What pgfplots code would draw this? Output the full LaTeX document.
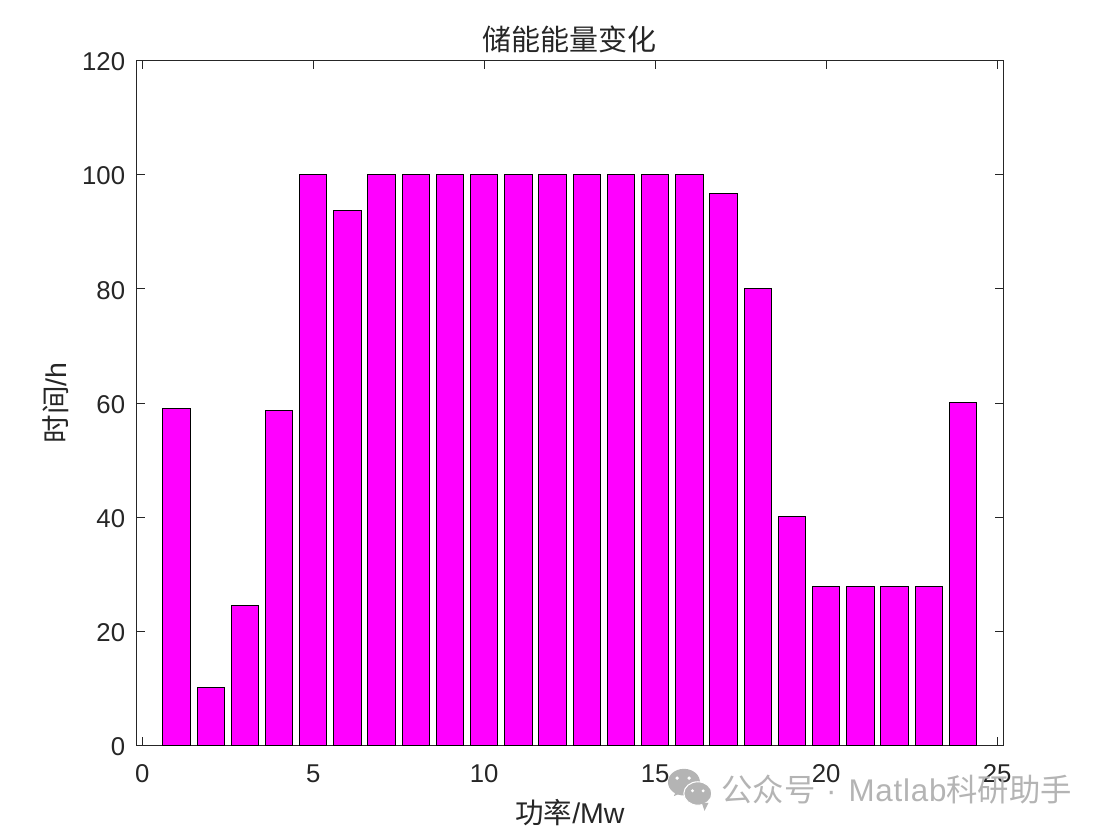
\documentclass[border=0pt]{standalone}
\usepackage{pgfplots}
\pgfplotsset{compat=1.18}
\usepackage{fontspec}
\setmainfont{Liberation Sans}
\newfontfamily\cjk{Noto Sans CJK SC}
\newfontfamily\wml[LetterSpace=2.5]{Liberation Sans}
\definecolor{axc}{HTML}{262626}
\definecolor{wm}{HTML}{B4B4B4}
\begin{document}
\begin{tikzpicture}[x=1pt,y=1pt]
\path[use as bounding box] (-102.375pt,-65.625pt) rectangle (728.625pt,559.125pt);
\begin{axis}[
  at={(0pt,0pt)},anchor=south west,
  scale only axis,width=650.1pt,height=513.75pt,
  xmin=-0.17,xmax=25.18,ymin=0,ymax=120,
  xtick={0,5,10,15,20,25},ytick={0,20,40,60,80,100,120},
  tick align=inside,major tick length=6.4pt,
  tick style={color=axc,line width=0.7pt},
  axis line style={color=axc,line width=0.8pt},
  ticklabel style={font=\fontsize{19.3}{21}\selectfont,color=axc},
  /pgf/number format/assume math mode=true,
  xticklabel style={yshift=-11pt},
  yticklabel style={xshift=-5pt,yshift=-1pt},
  title={\cjk\fontsize{21.75}{24}\selectfont 储能能量变化},
  title style={at={(0.5,1)},anchor=south,yshift=-3.7pt,text=axc},
  xlabel={{\cjk 功率}/Mw},
  ylabel={{\cjk 时间}/h},
  label style={font=\fontsize{21.4}{24}\selectfont,text=axc},
  xlabel style={yshift=-5pt},
  ylabel style={yshift=3pt},
  clip=false,
]
\addplot[ybar,bar width=0.8,bar shift=0pt,draw=black,line width=0.75pt,fill={rgb,1:red,1;green,0;blue,1}] coordinates {
(1,59)(2,10.1)(3,24.5)(4,58.6)(5,100)(6,93.7)(7,100)(8,100)(9,100)(10,100)(11,100)(12,100)(13,100)(14,100)(15,100)(16,100)(17,96.7)(18,80)(19,40.1)(20,27.8)(21,27.8)(22,27.8)(23,27.8)(24,60)};
\end{axis}
% watermark
\node[anchor=west,text=wm,inner sep=0pt,font=\fontsize{23.5}{26}\selectfont] at (438.5pt,-33pt) {{\cjk 公众号}\hspace{8pt}·\hspace{9pt}{\wml Matlab}{\cjk 科研助手}};
\fill[wm] (410.6pt,-27.5pt) ellipse (12pt and 10pt);
\fill[wm] (403pt,-38pt) -- (405pt,-33pt) -- (410pt,-35pt) -- cycle;
\fill[white] (405.5pt,-24.5pt) circle (1.4pt);
\fill[white] (414.5pt,-24.5pt) circle (1.4pt);
\fill[wm,draw=white,line width=0.8pt] (421pt,-36pt) ellipse (10.5pt and 8.8pt);
\fill[wm] (426pt,-49pt) -- (424pt,-43pt) -- (429pt,-43pt) -- cycle;
\fill[white] (417pt,-34pt) circle (1.2pt);
\fill[white] (425pt,-34pt) circle (1.2pt);
\end{tikzpicture}
\end{document}
